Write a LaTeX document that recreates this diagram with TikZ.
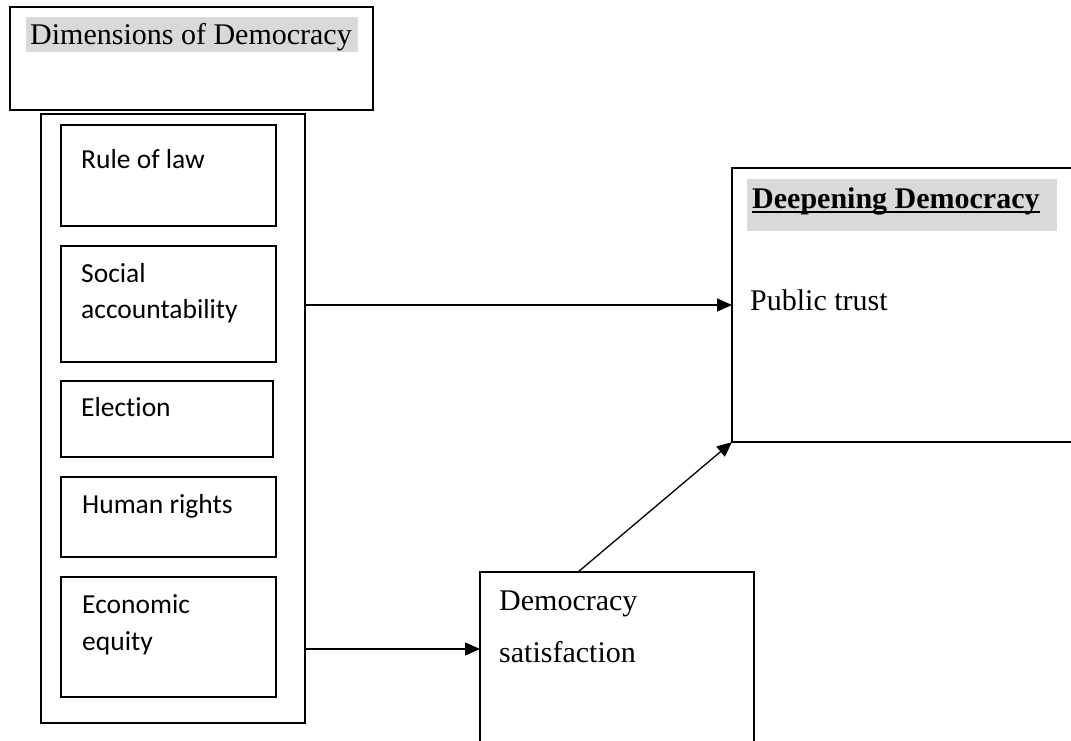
\documentclass[tikz,border=0pt]{standalone}
\usepackage{fontspec}
\setmainfont{Liberation Serif}
\newfontfamily\bodysans[Ligatures=NoCommon]{Carlito}
\usetikzlibrary{arrows.meta}
\definecolor{hlgray}{HTML}{D9D9D9}
\begin{document}
\begin{tikzpicture}[x=1pt,y=-1pt,
  outerbox/.style={draw, line width=1.6pt, anchor=north west, inner sep=0pt, outer sep=0pt},
  itembox/.style={draw, line width=1.3pt, anchor=north west, inner sep=0pt, outer sep=0pt},
  hlband/.style={fill=hlgray, anchor=north west, inner sep=0pt, outer sep=0pt},
  serifText/.style={anchor=base west, inner sep=0pt, font=\fontsize{30}{36}\selectfont},
  itemText/.style={anchor=base west, inner sep=0pt, font=\bodysans\fontsize{27.5}{33}\selectfont},
  arr/.style={line width=1.3pt, -{Triangle[length=15pt,width=13pt]}}]
\useasboundingbox (0,0) rectangle (1071,740);
\clip (0,0) rectangle (1071,740);

% title box
\node[outerbox, minimum width=363pt, minimum height=103pt] (dimbox) at (10,7) {};
\node[hlband, minimum width=332pt, minimum height=35pt] (dimhl) at (26,17) {};
\node[serifText] (dimtitle) at (30,44) {Dimensions of Democracy};

% column of dimensions
\node[outerbox, minimum width=264pt, minimum height=609pt] (col) at (41,114) {};
\node[itembox, minimum width=215pt, minimum height=101pt] (rule) at (61,125) {};
\node[itembox, minimum width=215pt, minimum height=116pt] (social) at (61,246) {};
\node[itembox, minimum width=212pt, minimum height=76pt] (election) at (61,381) {};
\node[itembox, minimum width=215pt, minimum height=80pt] (human) at (61,477) {};
\node[itembox, minimum width=215pt, minimum height=120pt] (econ) at (61,577) {};

\node[itemText] (ruleT) at (81,168) {Rule of law};
\node[itemText] (socialT1) at (81,282) {Social};
\node[itemText] (socialT2) at (81,318) {accountability};
\node[itemText] (electionT) at (81,416) {Election};
\node[itemText] (humanT) at (82,513) {Human rights};
\node[itemText] (econT1) at (82,613) {Economic};
\node[itemText] (econT2) at (82,650) {equity};

% outcome box
\node[outerbox, minimum width=350pt, minimum height=274pt] (dd) at (732,168) {};
\node[hlband, minimum width=310pt, minimum height=52pt] (ddhl) at (747,179) {};
\node[serifText, font=\fontsize{30}{36}\selectfont\bfseries] (ddtitle) at (752,208) {Deepening Democracy};
\draw[line width=2pt] ([yshift=-4pt]ddtitle.base west) -- ([yshift=-4pt]ddtitle.base east);
\node[serifText] (trust) at (750,310) {Public trust};

% mediator box
\node[outerbox, minimum width=274pt, minimum height=200pt] (sat) at (480,572) {};
\node[serifText] (satT1) at (499,610) {Democracy};
\node[serifText] (satT2) at (499,662) {satisfaction};
\coordinate (satIn) at (480,649);

% connectors
\draw[arr] (col.east |- dd.west) -- (dd.west);
\draw[arr] (col.east |- satIn) -- (satIn);
\draw[arr] ([xshift=98pt]sat.north west) -- (dd.south west);
\end{tikzpicture}
\end{document}
